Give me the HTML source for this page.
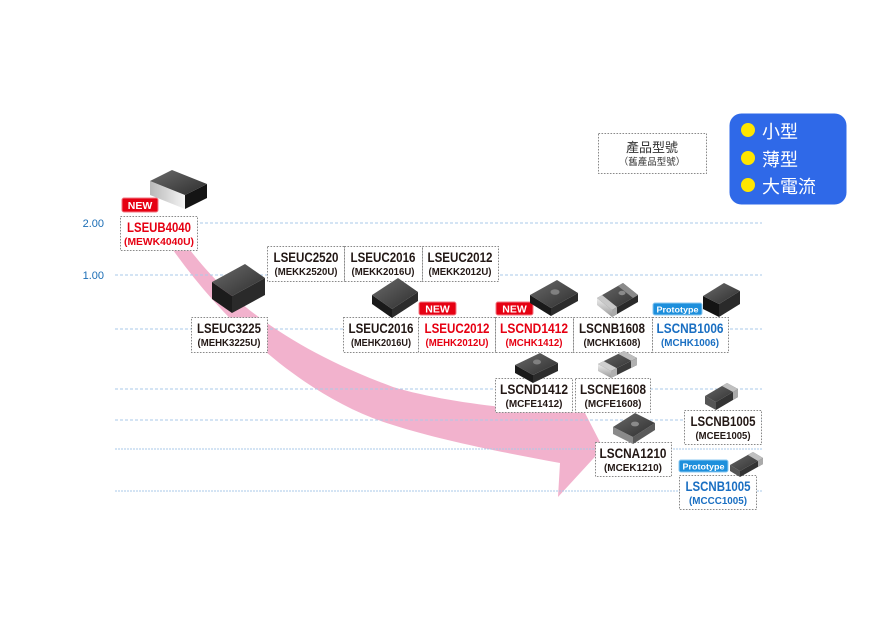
<!DOCTYPE html>
<html><head><meta charset="utf-8">
<style>
html,body{margin:0;padding:0;background:#fff;}
svg{display:block;}
.m{font-family:"Liberation Sans",sans-serif;font-weight:bold;font-size:13.5px;fill:#231815;}
.s{font-family:"Liberation Sans",sans-serif;font-weight:bold;font-size:10px;fill:#231815;}
.r{fill:#e60012;}
.b{fill:#1a6fc2;}
.bx{fill:#fff;stroke:#8a8a8a;stroke-width:1;stroke-dasharray:1.6 1.4;}
.hl{stroke:#a9c9e8;stroke-width:1;stroke-dasharray:3 2;fill:none;}
</style></head>
<body>
<svg width="878" height="617" viewBox="0 0 878 617" xmlns="http://www.w3.org/2000/svg">
<defs>
<linearGradient id="tg" x1="0" y1="0" x2="1" y2="1"><stop offset="0" stop-color="#6a6a6a"/><stop offset="1" stop-color="#2e2e2e"/></linearGradient>
<linearGradient id="lt" x1="0" y1="0" x2="1" y2="0"><stop offset="0" stop-color="#b8b8b8"/><stop offset="1" stop-color="#f4f4f4"/></linearGradient>
<linearGradient id="sv" x1="0" y1="0" x2="0" y2="1"><stop offset="0" stop-color="#eeeeee"/><stop offset="1" stop-color="#9a9a9a"/></linearGradient>
</defs>

<!-- pink arrow -->
<path d="M173,250 L190,250 C225,295 280,345 393,387 C450,404 530,411 585,413 L603,448 L558,497 L560,463 C500,452 440,440 393,425 C310,400 230,330 173,250 Z" fill="#f2b2cd"/>

<!-- horizontal dashed lines -->
<line class="hl" x1="120" y1="223" x2="762" y2="223"/>
<line class="hl" x1="115" y1="275" x2="762" y2="275"/>
<line class="hl" x1="115" y1="329" x2="762" y2="329"/>
<line class="hl" x1="115" y1="389" x2="762" y2="389"/>
<line class="hl" x1="115" y1="420" x2="762" y2="420"/>
<line class="hl" x1="115" y1="449" x2="762" y2="449" style="stroke-dasharray:2 1"/>
<line class="hl" x1="115" y1="491" x2="762" y2="491" style="stroke-dasharray:2 1"/>

<!-- axis labels -->
<text x="104" y="227" text-anchor="end" font-family="Liberation Sans,sans-serif" font-size="11" fill="#1b6db5">2.00</text>
<text x="104" y="279" text-anchor="end" font-family="Liberation Sans,sans-serif" font-size="11" fill="#1b6db5">1.00</text>

<!-- boxes -->
<rect class="bx" x="120.5" y="216.5" width="77" height="34"/>
<text class="m r" x="159" y="232" text-anchor="middle" textLength="64" lengthAdjust="spacingAndGlyphs">LSEUB4040</text>
<text class="s r" x="159" y="245" text-anchor="middle" textLength="70" lengthAdjust="spacingAndGlyphs">(MEWK4040U)</text>

<rect class="bx" x="267.5" y="246.5" width="77" height="35"/>
<text class="m" x="306" y="262" text-anchor="middle" textLength="65" lengthAdjust="spacingAndGlyphs">LSEUC2520</text>
<text class="s" x="306" y="275" text-anchor="middle" textLength="63" lengthAdjust="spacingAndGlyphs">(MEKK2520U)</text>

<rect class="bx" x="344.5" y="246.5" width="78" height="35"/>
<text class="m" x="383" y="262" text-anchor="middle" textLength="65" lengthAdjust="spacingAndGlyphs">LSEUC2016</text>
<text class="s" x="383" y="275" text-anchor="middle" textLength="63" lengthAdjust="spacingAndGlyphs">(MEKK2016U)</text>

<rect class="bx" x="422.5" y="246.5" width="76" height="35"/>
<text class="m" x="460" y="262" text-anchor="middle" textLength="65" lengthAdjust="spacingAndGlyphs">LSEUC2012</text>
<text class="s" x="460" y="275" text-anchor="middle" textLength="63" lengthAdjust="spacingAndGlyphs">(MEKK2012U)</text>

<rect class="bx" x="191.5" y="317.5" width="76" height="35"/>
<text class="m" x="229" y="333" text-anchor="middle" textLength="64" lengthAdjust="spacingAndGlyphs">LSEUC3225</text>
<text class="s" x="229" y="346" text-anchor="middle" textLength="63" lengthAdjust="spacingAndGlyphs">(MEHK3225U)</text>

<rect class="bx" x="343.5" y="317.5" width="75" height="35"/>
<text class="m" x="381" y="333" text-anchor="middle" textLength="65" lengthAdjust="spacingAndGlyphs">LSEUC2016</text>
<text class="s" x="381" y="346" text-anchor="middle" textLength="60" lengthAdjust="spacingAndGlyphs">(MEHK2016U)</text>

<rect class="bx" x="418.5" y="317.5" width="77" height="35"/>
<text class="m r" x="457" y="333" text-anchor="middle" textLength="65" lengthAdjust="spacingAndGlyphs">LSEUC2012</text>
<text class="s r" x="457" y="346" text-anchor="middle" textLength="63" lengthAdjust="spacingAndGlyphs">(MEHK2012U)</text>

<rect class="bx" x="495.5" y="317.5" width="78" height="35"/>
<text class="m r" x="534" y="333" text-anchor="middle" textLength="68" lengthAdjust="spacingAndGlyphs">LSCND1412</text>
<text class="s r" x="534" y="346" text-anchor="middle" textLength="57" lengthAdjust="spacingAndGlyphs">(MCHK1412)</text>

<rect class="bx" x="573.5" y="317.5" width="79" height="35"/>
<text class="m" x="612" y="333" text-anchor="middle" textLength="66" lengthAdjust="spacingAndGlyphs">LSCNB1608</text>
<text class="s" x="612" y="346" text-anchor="middle" textLength="57" lengthAdjust="spacingAndGlyphs">(MCHK1608)</text>

<rect class="bx" x="652.5" y="317.5" width="76" height="35"/>
<text class="m b" x="690" y="333" text-anchor="middle" textLength="67" lengthAdjust="spacingAndGlyphs">LSCNB1006</text>
<text class="s b" x="690" y="346" text-anchor="middle" textLength="58" lengthAdjust="spacingAndGlyphs">(MCHK1006)</text>

<rect class="bx" x="495.5" y="378.5" width="77" height="34"/>
<text class="m" x="534" y="394" text-anchor="middle" textLength="68" lengthAdjust="spacingAndGlyphs">LSCND1412</text>
<text class="s" x="534" y="407" text-anchor="middle" textLength="57" lengthAdjust="spacingAndGlyphs">(MCFE1412)</text>

<rect class="bx" x="575.5" y="378.5" width="75" height="34"/>
<text class="m" x="613" y="394" text-anchor="middle" textLength="66" lengthAdjust="spacingAndGlyphs">LSCNE1608</text>
<text class="s" x="613" y="407" text-anchor="middle" textLength="57" lengthAdjust="spacingAndGlyphs">(MCFE1608)</text>

<rect class="bx" x="595.5" y="442.5" width="76" height="34"/>
<text class="m" x="633" y="458" text-anchor="middle" textLength="67" lengthAdjust="spacingAndGlyphs">LSCNA1210</text>
<text class="s" x="633" y="471" text-anchor="middle" textLength="58" lengthAdjust="spacingAndGlyphs">(MCEK1210)</text>

<rect class="bx" x="684.5" y="410.5" width="77" height="34"/>
<text class="m" x="723" y="426" text-anchor="middle" textLength="65" lengthAdjust="spacingAndGlyphs">LSCNB1005</text>
<text class="s" x="723" y="439" text-anchor="middle" textLength="55" lengthAdjust="spacingAndGlyphs">(MCEE1005)</text>

<rect class="bx" x="679.5" y="475.5" width="77" height="34"/>
<text class="m b" x="718" y="491" text-anchor="middle" textLength="65" lengthAdjust="spacingAndGlyphs">LSCNB1005</text>
<text class="s b" x="718" y="504" text-anchor="middle" textLength="58" lengthAdjust="spacingAndGlyphs">(MCCC1005)</text>

<!-- legend box -->
<rect class="bx" x="598.5" y="133.5" width="108" height="40"/>
<text x="652" y="152" text-anchor="middle" font-family="Liberation Sans,'Noto Sans CJK TC',sans-serif" font-size="13" fill="#333">產品型號</text>
<text x="652" y="165" text-anchor="middle" font-family="Liberation Sans,'Noto Sans CJK TC',sans-serif" font-size="9.5" fill="#333">（舊產品型號）</text>

<!-- blue legend -->
<rect x="729.5" y="113.5" width="117" height="91" rx="12" ry="12" fill="#2f69e8"/>
<circle cx="748" cy="130" r="7" fill="#ffe600"/>
<circle cx="748" cy="158" r="7" fill="#ffe600"/>
<circle cx="748" cy="185" r="7" fill="#ffe600"/>
<text x="762" y="138" font-family="'Noto Sans CJK TC',sans-serif" font-size="18" fill="#fff">小型</text>
<text x="762" y="166" font-family="'Noto Sans CJK TC',sans-serif" font-size="18" fill="#fff">薄型</text>
<text x="762" y="193" font-family="'Noto Sans CJK TC',sans-serif" font-size="18" fill="#fff">大電流</text>

<!-- badges -->
<rect x="122" y="198" width="36" height="14" rx="2" fill="#e60012" stroke="#f27a85" stroke-width="1"/>
<text x="140" y="209" text-anchor="middle" font-family="Liberation Sans,sans-serif" font-weight="bold" font-size="10.5" fill="#fff">NEW</text>
<rect x="419" y="302" width="37" height="13" rx="2" fill="#e60012" stroke="#f27a85" stroke-width="1"/>
<text x="437.5" y="312.5" text-anchor="middle" font-family="Liberation Sans,sans-serif" font-weight="bold" font-size="10.5" fill="#fff">NEW</text>
<rect x="496" y="302" width="37" height="13" rx="2" fill="#e60012" stroke="#f27a85" stroke-width="1"/>
<text x="514.5" y="312.5" text-anchor="middle" font-family="Liberation Sans,sans-serif" font-weight="bold" font-size="10.5" fill="#fff">NEW</text>
<rect x="653" y="303" width="49" height="12" rx="2" fill="#1d8fdc" stroke="#8cc8f0" stroke-width="1"/>
<text x="677.5" y="312.3" text-anchor="middle" font-family="Liberation Sans,sans-serif" font-weight="bold" font-size="8.5" fill="#fff" textLength="42" lengthAdjust="spacingAndGlyphs">Prototype</text>
<rect x="679" y="460" width="49" height="12" rx="2" fill="#1d8fdc" stroke="#8cc8f0" stroke-width="1"/>
<text x="703.5" y="469.3" text-anchor="middle" font-family="Liberation Sans,sans-serif" font-weight="bold" font-size="8.5" fill="#fff" textLength="42" lengthAdjust="spacingAndGlyphs">Prototype</text>

<!-- cube 1 LSEUB4040 -->
<polygon points="150,181 185,195 185,209 150,195" fill="url(#lt)"/>
<polygon points="185,195 207,184 207,198 185,209" fill="#141414"/>
<polygon points="150,181 172,170 207,184 185,195" fill="url(#tg)"/>

<!-- cube 2 LSEUC3225 -->
<polygon points="212,282 232,296 232,313 212,299" fill="#1c1c1c"/>
<polygon points="232,296 265,278 265,295 232,313" fill="#2a2a2a"/>
<polygon points="212,282 245,264 265,278 232,296" fill="url(#tg)"/>

<!-- cube 3 LSEUC2016 -->
<polygon points="372,295 392,309 392,318 372,304" fill="#1a1a1a"/>
<polygon points="392,309 418,292 418,301 392,318" fill="#2c2c2c"/>
<polygon points="372,295 398,278 418,292 392,309" fill="url(#tg)"/>

<!-- cube 4 LSCND1412 MCHK -->
<polygon points="530,295 551,308 551,316 530,303" fill="#1a1a1a"/>
<polygon points="551,308 578,293 578,301 551,316" fill="#2c2c2c"/>
<polygon points="530,295 557,280 578,293 551,308" fill="url(#tg)"/>
<ellipse cx="555" cy="292" rx="4.5" ry="2.8" fill="#808080"/>

<!-- cube 5 LSCNB1608 -->
<polygon points="597,298 612,310 612,317 597,305" fill="url(#sv)"/>
<polygon points="612,310 638,295 638,302 612,317" fill="#2a2a2a"/>
<polygon points="612,310 617,307 617,314 612,317" fill="#aaa"/>
<polygon points="597,298 623,283 638,295 612,310" fill="url(#tg)"/>
<polygon points="597,298 602,295 617,307 612,310" fill="#c8c8c8"/>
<polygon points="618,286 623,283 638,295 633,298" fill="#8a8a8a"/>
<ellipse cx="622" cy="293" rx="3.5" ry="2.2" fill="#8a8a8a"/>

<!-- cube 6 LSCNB1006 -->
<polygon points="703,296 719,304 719,317 703,309" fill="#141414"/>
<polygon points="719,304 740,291 740,304 719,317" fill="#2a2a2a"/>
<polygon points="703,296 724,283 740,291 719,304" fill="url(#tg)"/>

<!-- cube 7 LSCND1412 MCFE -->
<polygon points="515,365 533,375 533,383 515,373" fill="#1a1a1a"/>
<polygon points="533,375 558,363 558,371 533,383" fill="#2c2c2c"/>
<polygon points="515,365 540,353 558,363 533,375" fill="url(#tg)"/>
<ellipse cx="537" cy="362" rx="4" ry="2.5" fill="#808080"/>

<!-- cube 8 LSCNE1608 -->
<polygon points="598,364 611,371 611,378 598,371" fill="url(#sv)"/>
<polygon points="611,371 637,358 637,365 611,378" fill="#3a3a3a"/>
<polygon points="611,371 617,368 617,375 611,378" fill="#b0b0b0"/>
<polygon points="631,361 637,358 637,365 631,368" fill="#b0b0b0"/>
<polygon points="598,364 624,351 637,358 611,371" fill="url(#tg)"/>
<polygon points="598,364 603.7,361.1 616.7,368.1 611,371" fill="#cfcfcf"/>
<polygon points="618.3,353.9 624,351 637,358 631.3,360.9" fill="#bdbdbd"/>

<!-- cube 9 LSCNA1210 -->
<polygon points="613,427 633,437 633,444 613,434" fill="#8a8a8a"/>
<polygon points="633,437 655,423 655,430 633,444" fill="#5a5a5a"/>
<polygon points="613,427 635,413 655,423 633,437" fill="url(#tg)"/>
<ellipse cx="635" cy="424" rx="4" ry="2.4" fill="#8a8a8a"/>

<!-- cube 10 LSCNB1005 MCEE -->
<polygon points="705,396 716,402 716,410 705,404" fill="#555"/>
<polygon points="716,402 738,389 738,397 716,410" fill="#333"/>
<polygon points="733,392 738,389 738,397 733,400" fill="#aaa"/>
<polygon points="705,396 727,383 738,389 716,402" fill="url(#tg)"/>
<polygon points="722,386 727,383 738,389 733,392" fill="#c0c0c0"/>

<!-- cube 11 LSCNB1005 MCCC -->
<polygon points="730,465 740,471 740,477 730,471" fill="#555"/>
<polygon points="740,471 763,458 763,464 740,477" fill="#333"/>
<polygon points="758,461 763,458 763,464 758,467" fill="#aaa"/>
<polygon points="730,465 753,452 763,458 740,471" fill="url(#tg)"/>
<polygon points="748,455 753,452 763,458 758,461" fill="#c0c0c0"/>
</svg>
</body></html>
